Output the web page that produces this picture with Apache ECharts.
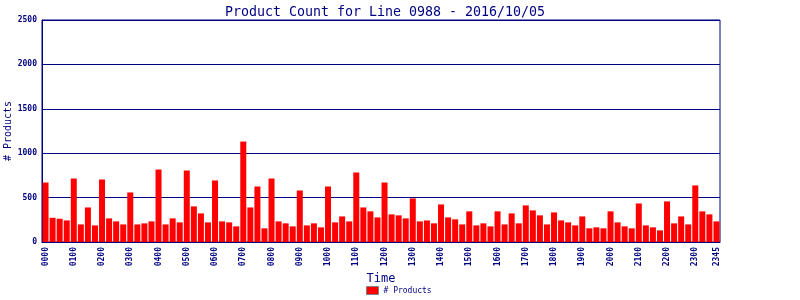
<!DOCTYPE html>
<html><head><meta charset="utf-8">
<script src="https://cdn.jsdelivr.net/npm/echarts@6/dist/echarts.min.js"></script>
<style>html,body{margin:0;padding:0;background:#fff}#c{width:800px;height:300px}</style>
</head><body><div id="c"></div>
<script>
const titleText = "Product Count for Line 0988 - 2016/10/05";
const seriesName = "# Products";
const yTicks = [0, 500, 1000, 1500, 2000, 2500];
const categories = [];
for (let h = 0; h < 24; h++) for (let m = 0; m < 60; m += 15)
  categories.push(String(h).padStart(2, "0") + String(m).padStart(2, "0"));
const productCounts = [
  670, 273, 262, 243, 715, 198, 389, 187, 704, 266, 232, 198, 558, 198, 210, 232,
  816, 198, 266, 221, 805, 401, 322, 221, 693, 232, 221, 176, 1131, 389, 625, 154,
  715, 232, 210, 176, 580, 187, 210, 165, 625, 221, 288, 232, 783, 389, 345, 277,
  670, 311, 300, 266, 491, 232, 243, 210, 423, 277, 255, 198, 345, 187, 210, 176,
  345, 198, 322, 210, 412, 356, 300, 198, 333, 243, 221, 187, 288, 154, 165, 154,
  345, 221, 176, 154, 434, 187, 165, 131, 457, 210, 288, 198, 637, 345, 311, 232
];
const navy = "#000080";
const mono = "'DejaVu Sans Mono', 'Liberation Mono', monospace";
const chart = echarts.init(document.getElementById("c"));
chart.setOption({
  animation: false,
  backgroundColor: "#ffffff",
  title: { text: titleText, left: 380, textAlign: "center", top: 1,
    textStyle: { color: navy, fontFamily: mono, fontSize: 13.3, fontWeight: "normal" } },
  legend: { bottom: 0, left: 361, itemWidth: 12, itemHeight: 8, itemGap: 4,
    data: [{ name: seriesName, icon: "rect", itemStyle: { borderColor: "#808080", borderWidth: 1 } }],
    textStyle: { color: navy, fontFamily: mono, fontSize: 8 } },
  grid: { left: 42, right: 80, top: 20, bottom: 58, show: true, borderColor: navy, borderWidth: 1,
    containLabel: false, outerBoundsMode: "none" },
  xAxis: {
    type: "category", data: categories, name: "Time", nameLocation: "middle", nameGap: 31,
    nameMoveOverlap: false,
    nameTextStyle: { color: navy, fontFamily: mono, fontSize: 12 },
    axisLine: { lineStyle: { color: navy, width: 1 } },
    axisTick: { show: false },
    axisLabel: { rotate: 90, color: navy, fontFamily: mono, fontSize: 8, fontWeight: "bold", margin: 5,
      interval: (i) => i % 4 === 0 || i === categories.length - 1 }
  },
  yAxis: {
    type: "value", min: yTicks[0], max: yTicks[yTicks.length - 1], interval: 500,
    name: seriesName, nameLocation: "middle", nameGap: 29, nameMoveOverlap: false,
    nameTextStyle: { color: navy, fontFamily: mono, fontSize: 10 },
    axisLine: { show: true, lineStyle: { color: navy, width: 1 } },
    axisTick: { show: false },
    splitLine: { lineStyle: { color: navy, width: 1 } },
    axisLabel: { color: navy, fontFamily: mono, fontSize: 8, fontWeight: "bold", margin: 5,
      formatter: (v) => String(v) }
  },
  series: [{
    name: seriesName, type: "bar", data: productCounts, barCategoryGap: "15%",
    itemStyle: { color: "#ff0000" }
  }]
});
</script></body></html>
